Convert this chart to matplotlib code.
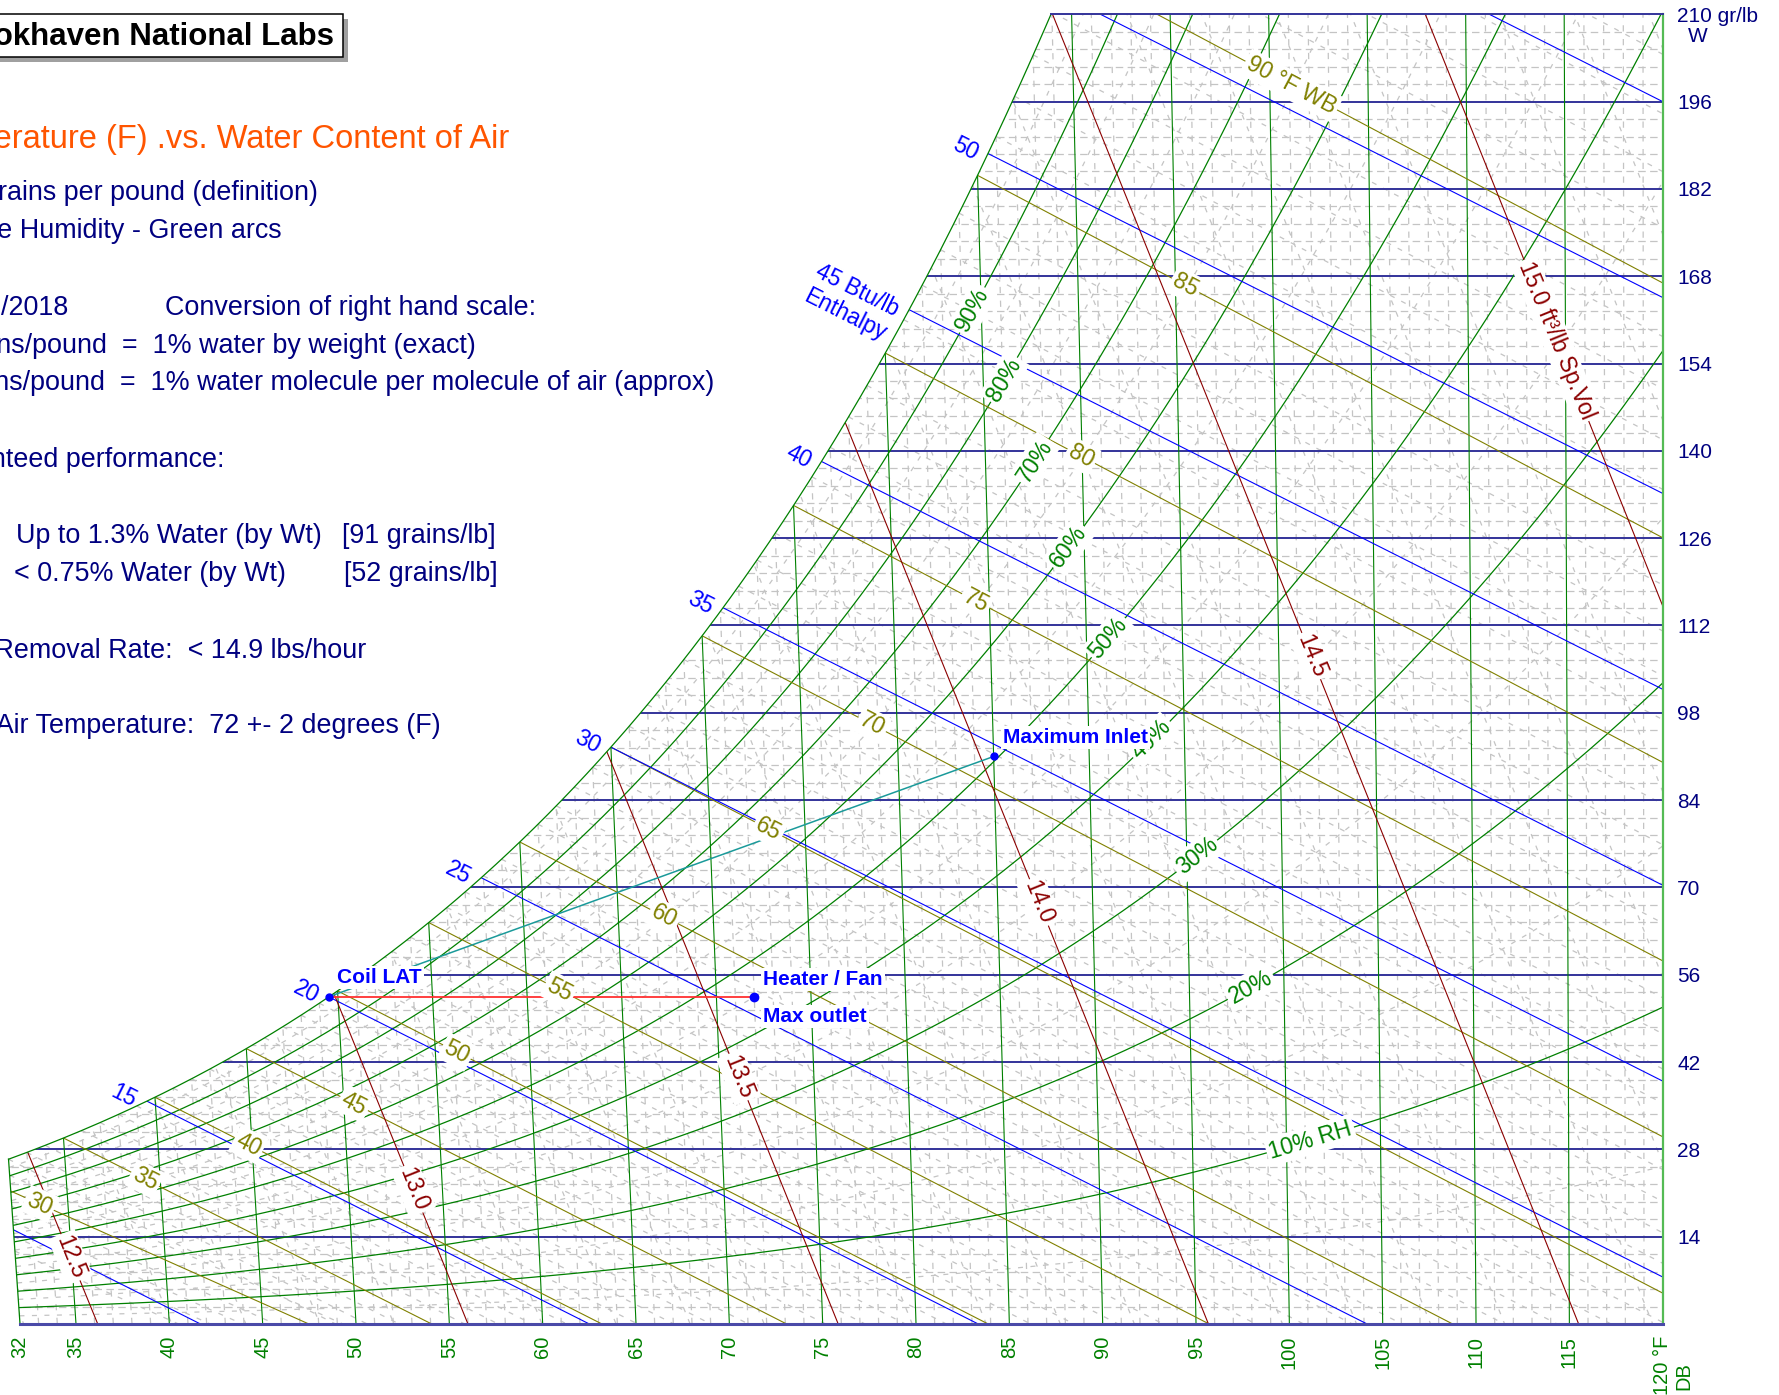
import numpy as np
import matplotlib
matplotlib.use("Agg")
import matplotlib.pyplot as plt
from matplotlib.path import Path
from matplotlib.patches import PathPatch, Rectangle

plt.rcParams["font.family"] = ["Liberation Sans", "DejaVu Sans"]

# ---------------- chart content ----------------
db_ticks = [32, 35, 40, 45, 50, 55, 60, 65, 70, 75, 80, 85, 90, 95, 100, 105, 110, 115]
grain_ticks = [14, 28, 42, 56, 70, 84, 98, 112, 126, 140, 154, 168, 182, 196]
dry_bulb_lines = [35, 40, 45, 50, 55, 60, 65, 70, 75, 80, 85, 90, 95, 100, 105, 110, 115]
rh_levels = [0.10, 0.20, 0.30, 0.40, 0.50, 0.60, 0.70, 0.80, 0.90]
rh_text = ["10% RH", "20%", "30%", "40%", "50%", "60%", "70%", "80%", "90%"]
wet_bulb_lines = [30, 35, 40, 45, 50, 55, 60, 65, 70, 75, 80, 85, 90]
wet_bulb_text = ["30", "35", "40", "45", "50", "55", "60", "65", "70", "75", "80", "85", "90 °F WB"]
enthalpy_lines = [10, 15, 20, 25, 30, 35, 40, 45, 50, 55, 60]
enthalpy_text = {15: "15", 20: "20", 25: "25", 30: "30", 35: "35", 40: "40",
                 45: "45 Btu/lb\nEnthalpy", 50: "50"}
volume_lines = [12.5, 13.0, 13.5, 14.0, 14.5, 15.0]
volume_text = ["12.5", "13.0", "13.5", "14.0", "14.5", "15.0 ft³/lb Sp.Vol"]

# process states: (dry bulb °F, grains per lb)
coil_lat_grains = 52.5          # coil leaving air, saturated
heater_outlet = (72.0, 52.5)
max_inlet = (85.0, 91.0)

# label placement along the curves
rh_label_x = [101.13, 97.91, 95.05, 92.62, 90.31, 88.18, 86.36, 84.72, 83.02]
wb_label_x = [33.05, 38.7, 44.24, 49.9, 55.4, 60.9, 66.5, 72.1, 77.65, 83.2, 88.85, 94.44, 100.1]
vol_label_w = [10.7, 21.6, 39.6, 67.6, 107.1, 157.7]

# ---------------- psychrometrics (IP units) ----------------
P_ATM = 14.696
K_TILT = 0.444 / (0.240 * 7000.0)   # dry-bulb lines lean so that 120 °F stays vertical


def chart_x(T, W):
    return T + (T - 120.0) * W * K_TILT


def pws(T):
    T = np.asarray(T, dtype=float)
    R = T + 459.67
    liq = np.exp(-1.0440397e4 / R - 1.1294650e1 - 2.7022355e-2 * R + 1.2890360e-5 * R**2
                 - 2.4780681e-9 * R**3 + 6.5459673 * np.log(R))
    ice = np.exp(-1.0214165e4 / R - 4.8932428 - 5.3765794e-3 * R + 1.9202377e-7 * R**2
                 + 3.5575832e-10 * R**3 - 9.0344688e-14 * R**4 + 4.1635019 * np.log(R))
    return np.where(T >= 32.0, liq, ice)


def w_rh(T, rh=1.0):
    pv = rh * pws(T)
    return 7000.0 * 0.621945 * pv / (P_ATM - pv)


def w_wet_bulb(T, twb):
    ws = float(w_rh(twb)) / 7000.0
    T = np.asarray(T, dtype=float)
    if twb >= 32:
        W = ((1093 - 0.556 * twb) * ws - 0.240 * (T - twb)) / (1093 + 0.444 * T - twb)
    else:
        W = ((1220 - 0.04 * twb) * ws - 0.240 * (T - twb)) / (1220 + 0.444 * T - 0.48 * twb)
    return 7000.0 * W


def w_volume(T, v):
    T = np.asarray(T, dtype=float)
    return 7000.0 * (v * P_ATM / (0.370486 * (T + 459.67)) - 1.0) / 1.607858


T_GRID = np.linspace(32.0, 130.0, 4000)
W_GRID = w_rh(T_GRID)


def t_sat(w):
    return float(np.interp(w, W_GRID, T_GRID))


# ---------------- figure / axes mapping ----------------
FIG_W, FIG_H = 1779, 1395
X32_PX, X120_PX = 20.0, 1662.7
W0_PX, W210_PX = 1324.0, 14.3
SX = (X120_PX - X32_PX) / 88.0
SY = (W0_PX - W210_PX) / 210.0
W_TOP = 210.0

fig = plt.figure(figsize=(FIG_W / 100, FIG_H / 100), dpi=100)
ax = fig.add_axes([0, 0, 1, 1])
ax.set_xlim(32 - X32_PX / SX, 32 + (FIG_W - X32_PX) / SX)
ax.set_ylim(-(FIG_H - W0_PX) / SY, W0_PX / SY)
ax.axis("off")


def w_at_px(py):
    return (W0_PX - py) / SY


def x_at_px(px):
    return 32 + (px - X32_PX) / SX


def screen_angle(x0, w0, x1, w1):
    return np.degrees(np.arctan2((w1 - w0) * SY, (x1 - x0) * SX))


# chart outline (saturation curve, top, right edge, bottom)
t_top = t_sat(W_TOP)
ts = np.linspace(32.0, t_top, 400)
sat_w = w_rh(ts)
sat_x = chart_x(ts, sat_w)
outline = np.vstack([np.column_stack([sat_x, sat_w]),
                     [[120.0, W_TOP], [120.0, 0.0], [32.0, 0.0], [sat_x[0], sat_w[0]]]])
clip_patch = PathPatch(Path(outline, closed=True), transform=ax.transData,
                       fc="none", ec="none")
ax.add_patch(clip_patch)


def draw(x, w, **kw):
    line, = ax.plot(x, w, **kw)
    line.set_clip_path(clip_patch)
    return line


GREEN = "#008000"
NAVY = "#33339a"
BLUE = "#0000ff"
OLIVE = "#808000"
DARKRED = "#8b0000"
TEXT_NAVY = "#000080"
GRAY = "#c4c4c4"

# ---------------- fine background grid ----------------
minor = dict(color=GRAY, lw=0.9, zorder=1)
for t in np.arange(33, 120, 1):
    if t % 5:
        draw([chart_x(t, 0), chart_x(t, W_TOP)], [0, W_TOP], dashes=(5, 6), **minor)
for w in np.arange(2.8, 210, 2.8):
    if abs(w / 14 - round(w / 14)) > 1e-6:
        draw([20, 121], [w, w], dashes=(6, 3.5), **minor)
for twb in np.arange(25, 97, 1):
    if twb % 5:
        tt = np.linspace(max(twb, 32), 125, 60)
        draw(chart_x(tt, w_wet_bulb(tt, twb)), w_wet_bulb(tt, twb), dashes=(4, 6), **minor)
for v in np.arange(12.4, 15.45, 0.1):
    if abs(v * 2 - round(v * 2)) > 1e-6:
        tt = np.linspace(30, 125, 60)
        draw(chart_x(tt, w_volume(tt, v)), w_volume(tt, v), dashes=(4, 6), **minor)
for rh in np.arange(0.05, 1.0, 0.10):
    tt = np.linspace(32, 120, 200)
    draw(chart_x(tt, w_rh(tt, rh)), w_rh(tt, rh), dashes=(4, 6), **minor)

# ---------------- main chart lines ----------------
for w in grain_ticks:
    draw([20, 120], [w, w], color=NAVY, lw=1.4, zorder=2)

for t in dry_bulb_lines:
    draw([chart_x(t, 0), chart_x(t, W_TOP)], [0, W_TOP], color=GREEN, lw=0.8, zorder=2)

tt = np.linspace(32, 120, 400)
for rh in rh_levels:
    draw(chart_x(tt, w_rh(tt, rh)), w_rh(tt, rh), color=GREEN, lw=0.9, zorder=2)

for twb in wet_bulb_lines:
    tw = np.linspace(max(twb, 32), 125, 200)
    ww = w_wet_bulb(tw, twb)
    draw(chart_x(tw, ww), ww, color=OLIVE, lw=0.8, zorder=2)

for h in enthalpy_lines:
    wl = np.array([0.0, W_TOP])
    draw((h - 1114.28 * wl / 7000.0) / 0.24, wl, color=BLUE, lw=0.8, zorder=2)

for v in volume_lines:
    tv = np.linspace(30, 125, 200)
    wv = w_volume(tv, v)
    draw(chart_x(tv, wv), wv, color=DARKRED, lw=0.8, zorder=2)

# outline
ax.plot(sat_x, sat_w, color=GREEN, lw=0.9, zorder=3)
ax.plot([chart_x(32, 0), sat_x[0]], [0, sat_w[0]], color=GREEN, lw=0.9, zorder=3)
ax.plot([120, 120], [0, W_TOP], color="#55bb55", lw=1.6, zorder=3)
ax.plot([sat_x[-1], 120], [W_TOP, W_TOP], color=NAVY, lw=1.4, zorder=3)
ax.plot([32, 120], [0, 0], color="#4a4aa8", lw=2.2, zorder=3)

# ---------------- curve labels ----------------
def box(pad=0.12):
    return dict(boxstyle=f"square,pad={pad}", fc="white", ec="none")


LBL = 16.5

for rh, txt, xl in zip(rh_levels, rh_text, rh_label_x):
    xs = chart_x(tt, w_rh(tt, rh))
    ws = w_rh(tt, rh)
    wl = np.interp(xl, xs, ws)
    i = np.searchsorted(xs, xl)
    ang = screen_angle(xs[i - 2], ws[i - 2], xs[i + 2], ws[i + 2])
    ax.text(xl, wl, txt, color=GREEN, fontsize=LBL, rotation=ang, rotation_mode="anchor",
            ha="center", va="center", bbox=box(), zorder=6)

for twb, txt, xl in zip(wet_bulb_lines, wet_bulb_text, wb_label_x):
    tw = np.linspace(max(twb, 32), 125, 400)
    ww = w_wet_bulb(tw, twb)
    xs = chart_x(tw, ww)
    wl = np.interp(xl, xs, ww)
    ang = screen_angle(xs[0], ww[0], xs[-1], ww[-1])
    ax.text(xl, wl, txt, color=OLIVE, fontsize=LBL, rotation=ang, rotation_mode="anchor",
            ha="center", va="center", bbox=box(), zorder=6)

for v, txt, wl in zip(volume_lines, volume_text, vol_label_w):
    tv = np.linspace(30, 125, 400)
    wv = w_volume(tv, v)
    xs = chart_x(tv, wv)
    xl = np.interp(wl, wv[::-1], xs[::-1])
    ang = screen_angle(xs[0], wv[0], xs[-1], wv[-1])
    ax.text(xl, wl, txt, color=DARKRED, fontsize=LBL, rotation=ang, rotation_mode="anchor",
            ha="center", va="center", bbox=box(), zorder=6)

# enthalpy scale sits just beyond the saturation curve
sat_h = 0.24 * chart_x(T_GRID, W_GRID) + 1114.28 * W_GRID / 7000.0
h_ang = screen_angle(0, 0, 1114.28 / 0.24 / 7000.0, -1.0)
ux, uy = -np.cos(np.radians(h_ang)), -np.sin(np.radians(h_ang))   # up-left along line
px_, py_ = -uy, ux                                               # perpendicular, below
for h, txt in enthalpy_text.items():
    w0 = float(np.interp(h, sat_h, W_GRID))
    x0 = (h - 1114.28 * w0 / 7000.0) / 0.24
    along, across = (10, 6) if "\n" not in txt else (10, 20)
    dx = along * ux + across * px_
    dy = along * uy + across * py_
    ax.annotate(txt, xy=(x0, w0), xytext=(dx, dy), textcoords="offset pixels",
                color=BLUE, fontsize=LBL, rotation=h_ang, rotation_mode="anchor",
                ha="right", va="center", multialignment="right", zorder=6)

# ---------------- axis scales ----------------
TICK = 14.5
for t in db_ticks:
    ax.text(t, w_at_px(1336), str(t), color=GREEN, fontsize=TICK, rotation=90,
            ha="center", va="top")
ax.text(120, w_at_px(1336), "120 °F", color=GREEN, fontsize=TICK, rotation=90,
        ha="center", va="top")
ax.text(x_at_px(1684), w_at_px(1390), "DB", color=GREEN, fontsize=TICK, rotation=90,
        ha="center", va="bottom")

for w in grain_ticks:
    ax.text(x_at_px(1677), w - 7.5 / SY, str(w), color=TEXT_NAVY, fontsize=15,
            ha="left", va="baseline")
ax.text(x_at_px(1677), w_at_px(22.5), "210 gr/lb", color=TEXT_NAVY, fontsize=15,
        ha="left", va="baseline")
ax.text(x_at_px(1698), w_at_px(42.5), "W", color=TEXT_NAVY, fontsize=15,
        ha="center", va="baseline")

# ---------------- process path ----------------
coil_t = t_sat(coil_lat_grains)
coil = (chart_x(coil_t, coil_lat_grains), coil_lat_grains)
heat = (chart_x(*heater_outlet), heater_outlet[1])
inlet = (chart_x(*max_inlet), max_inlet[1])

ax.plot([coil[0], heat[0]], [coil[1], heat[1]], color="#ff3030", lw=1.3, zorder=4)
ax.plot([coil[0], inlet[0]], [coil[1], inlet[1]], color="#1a9a9a", lw=1.1, zorder=4)
ax.plot([coil[0], inlet[0]], [coil[1], inlet[1]], "o", color="#0000ff", ms=5, zorder=8)
ax.plot([heat[0]], [heat[1]], "o", color="#0000ff", ms=6, zorder=8)

ann = dict(textcoords="offset pixels", color="#0000ff", fontsize=15, fontweight="bold",
           ha="left", va="center", bbox=box(0.1), zorder=7)
ax.annotate("Coil LAT", xy=coil, xytext=(8, 19), **ann)
ax.annotate("Heater / Fan", xy=heat, xytext=(9, 17), **ann)
ax.annotate("Max outlet", xy=heat, xytext=(9, -20), **ann)
ax.annotate("Maximum Inlet", xy=inlet, xytext=(9, 19), **ann)

# ---------------- notes panel ----------------
def fpos(px, py):
    return px / FIG_W, 1 - py / FIG_H


fig.patches.append(Rectangle(fpos(-20, 62), 368 / FIG_W, 43 / FIG_H, transform=fig.transFigure,
                             fc="#a0a0a0", ec="none", zorder=1))
fig.patches.append(Rectangle(fpos(-20, 57), 363 / FIG_W, 43 / FIG_H, transform=fig.transFigure,
                             fc="white", ec="black", lw=1.1, zorder=2))
fig.text(*fpos(334, 45), "Brookhaven National Labs", fontsize=22.5, fontweight="bold",
         color="black", ha="right", va="baseline", zorder=3)

fig.text(*fpos(509, 148.3), "Dry Bulb Temperature (F) .vs. Water Content of Air",
         fontsize=23.5, color="#ff5500", ha="right", va="baseline")

NOTE = dict(fontsize=19.4, color=TEXT_NAVY, va="baseline")
fig.text(*fpos(317.5, 199.5), "W = grains per pound (definition)", ha="right", **NOTE)
fig.text(*fpos(282, 238), "Relative Humidity - Green arcs", ha="right", **NOTE)
fig.text(*fpos(68, 315), "Rev. 1/2018", ha="right", **NOTE)
fig.text(*fpos(165, 315), "Conversion of right hand scale:", ha="left", **NOTE)
fig.text(*fpos(475.5, 352.7), "70 grains/pound  =  1% water by weight (exact)", ha="right", **NOTE)
fig.text(*fpos(714, 390),
         "43 grains/pound  =  1% water molecule per molecule of air (approx)", ha="right", **NOTE)
fig.text(*fpos(224, 466.7), "Guaranteed performance:", ha="right", **NOTE)
fig.text(*fpos(15.5, 543.3), "Up to 1.3% Water (by Wt)", ha="left", **NOTE)
fig.text(*fpos(341.5, 543.3), "[91 grains/lb]", ha="left", **NOTE)
fig.text(*fpos(13.6, 580.7), "< 0.75% Water (by Wt)", ha="left", **NOTE)
fig.text(*fpos(344, 580.7), "[52 grains/lb]", ha="left", **NOTE)
fig.text(*fpos(366, 657.7), "Water Removal Rate:  < 14.9 lbs/hour", ha="right", **NOTE)
fig.text(*fpos(441, 733.3), "Outlet Air Temperature:  72 +- 2 degrees (F)", ha="right", **NOTE)

fig.savefig("out.png", dpi=100)
